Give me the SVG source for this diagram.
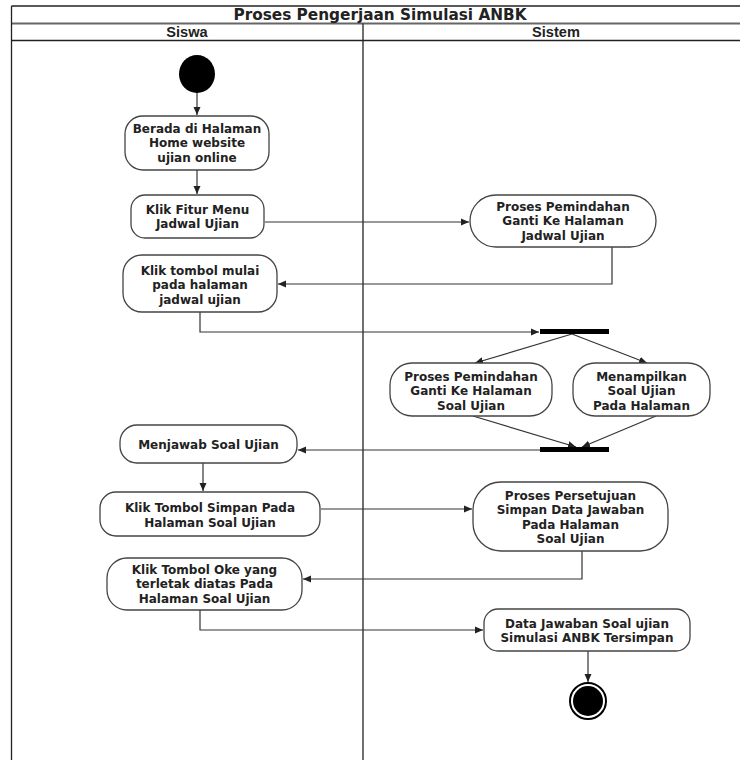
<svg xmlns="http://www.w3.org/2000/svg" width="740" height="760" viewBox="0 0 740 760">
<style>
text{font-family:"DejaVu Sans","Verdana",sans-serif;font-weight:bold;fill:#222;text-anchor:middle}
.n{font-size:12px}
.h{font-family:"Liberation Sans","Arial",sans-serif;font-size:14.6px}
.node rect{fill:#fff;stroke:#444;stroke-width:1.3}
.c{fill:none;stroke:#333;stroke-width:1.2}
.frame{stroke:#222;stroke-width:1.3;fill:none}
</style>
<defs>
<marker id="ah" markerUnits="userSpaceOnUse" markerWidth="10" markerHeight="8" refX="8" refY="4" orient="auto">
<path d="M0,0.5 L8,4 L0,7.5 z" fill="#222"/>
</marker>
</defs>
<rect width="740" height="760" fill="#fff"/>
<g id="frame">
<line class="frame" x1="11.5" y1="6" x2="740" y2="6"/>
<line x1="11.5" y1="23.5" x2="740" y2="23.5" stroke="#666" stroke-width="1.8"/>
<line class="frame" x1="11.5" y1="40.5" x2="740" y2="40.5"/>
<line class="frame" x1="11.5" y1="6" x2="11.5" y2="760"/>
<line class="frame" x1="363" y1="23.5" x2="363" y2="760"/>
<text x="380" y="20" style="font-size:15.3px">Proses Pengerjaan Simulasi ANBK</text>
<text class="h" x="187" y="37">Siswa</text>
<text class="h" x="556" y="37">Sistem</text>
</g>
<g id="connectors">
<path class="c" d="M197,93 V115" marker-end="url(#ah)"/>
<path class="c" d="M197,170 V194" marker-end="url(#ah)"/>
<path class="c" d="M265,222 H469" marker-end="url(#ah)"/>
<path class="c" d="M612,247 V284 H278" marker-end="url(#ah)"/>
<path class="c" d="M200,312 V332 H539" marker-end="url(#ah)"/>
<path class="c" d="M572,334 L475,363" marker-end="url(#ah)"/>
<path class="c" d="M572,334 L647,363" marker-end="url(#ah)"/>
<path class="c" d="M473,416 L576,447" marker-end="url(#ah)"/>
<path class="c" d="M656,416 L582,447" marker-end="url(#ah)"/>
<path class="c" d="M540,450 H298" marker-end="url(#ah)"/>
<path class="c" d="M203,463 V491" marker-end="url(#ah)"/>
<path class="c" d="M321,509 H472" marker-end="url(#ah)"/>
<path class="c" d="M582,551 V579 H303" marker-end="url(#ah)"/>
<path class="c" d="M200,610 V630 H483" marker-end="url(#ah)"/>
<path class="c" d="M588,651 V682" marker-end="url(#ah)"/>
</g>
<g id="start">
<ellipse cx="197" cy="74" rx="18" ry="19" fill="#000"/>
</g>
<g id="n1" class="node">
<rect x="125" y="116" width="144" height="54" rx="18"/>
<text class="n" x="197" y="132.5">Berada di Halaman</text>
<text class="n" x="197" y="147">Home website</text>
<text class="n" x="197" y="161.5">ujian online</text>
</g>
<g id="n2" class="node">
<rect x="131" y="195" width="133" height="43" rx="14"/>
<text class="n" x="197.5" y="213.5">Klik Fitur Menu</text>
<text class="n" x="197.5" y="228">Jadwal Ujian</text>
</g>
<g id="n3" class="node">
<rect x="470" y="195" width="186" height="52" rx="26"/>
<text class="n" x="563" y="210.5">Proses Pemindahan</text>
<text class="n" x="563" y="225">Ganti Ke Halaman</text>
<text class="n" x="563" y="239.5">Jadwal Ujian</text>
</g>
<g id="n4" class="node">
<rect x="123" y="255" width="154" height="57" rx="19"/>
<text class="n" x="200" y="274.5">Klik tombol mulai</text>
<text class="n" x="200" y="289">pada halaman</text>
<text class="n" x="200" y="303.5">jadwal ujian</text>
</g>
<g id="fork">
<rect x="540" y="329" width="69" height="5" fill="#000"/>
</g>
<g id="n5" class="node">
<rect x="390" y="363" width="162" height="53" rx="22"/>
<text class="n" x="471" y="380.5">Proses Pemindahan</text>
<text class="n" x="471" y="395">Ganti Ke Halaman</text>
<text class="n" x="471" y="409.5">Soal Ujian</text>
</g>
<g id="n6" class="node">
<rect x="573" y="363" width="137" height="53" rx="22"/>
<text class="n" x="641.5" y="380.5">Menampilkan</text>
<text class="n" x="641.5" y="395">Soal Ujian</text>
<text class="n" x="641.5" y="409.5">Pada Halaman</text>
</g>
<g id="join">
<rect x="540" y="447" width="69" height="5" fill="#000"/>
</g>
<g id="n7" class="node">
<rect x="120" y="425" width="177" height="38" rx="17"/>
<text class="n" x="208.5" y="448.5">Menjawab Soal Ujian</text>
</g>
<g id="n8" class="node">
<rect x="100" y="492" width="220" height="44" rx="16"/>
<text class="n" x="210" y="512">Klik Tombol Simpan Pada</text>
<text class="n" x="210" y="526.5">Halaman Soal Ujian</text>
</g>
<g id="n9" class="node">
<rect x="473" y="482" width="195" height="69" rx="28"/>
<text class="n" x="570.5" y="499.5">Proses Persetujuan</text>
<text class="n" x="570.5" y="514">Simpan Data Jawaban</text>
<text class="n" x="570.5" y="528.5">Pada Halaman</text>
<text class="n" x="570.5" y="543">Soal Ujian</text>
</g>
<g id="n10" class="node">
<rect x="107" y="558" width="195" height="52" rx="20"/>
<text class="n" x="204.5" y="573.5">Klik Tombol Oke yang</text>
<text class="n" x="204.5" y="588">terletak diatas Pada</text>
<text class="n" x="204.5" y="602.5">Halaman Soal Ujian</text>
</g>
<g id="n11" class="node">
<rect x="484" y="609" width="206" height="42" rx="14"/>
<text class="n" x="587" y="627.5">Data Jawaban Soal ujian</text>
<text class="n" x="587" y="642">Simulasi ANBK Tersimpan</text>
</g>
<g id="end">
<circle cx="588" cy="701" r="18" fill="#fff" stroke="#000" stroke-width="2"/>
<circle cx="588" cy="701" r="15" fill="#000"/>
</g>
</svg>
